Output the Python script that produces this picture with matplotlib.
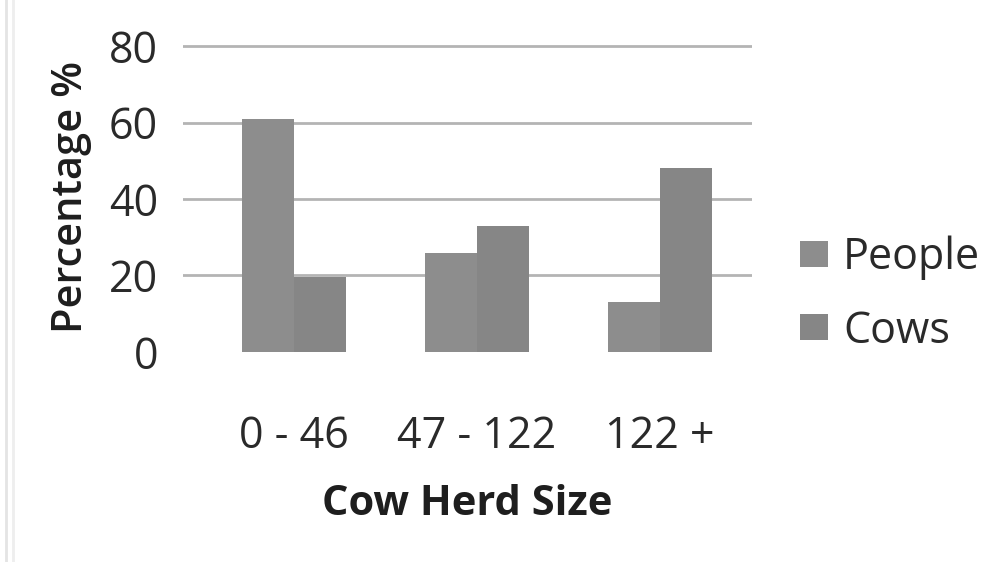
import numpy as np
import matplotlib.pyplot as plt
from matplotlib.lines import Line2D

herd_sizes = ['0 - 46', '47 - 122', '122 +']
people_pct = [61, 26, 13]
cows_pct = [19.5, 33, 48]

plt.rcParams['font.family'] = ['Open Sans', 'DejaVu Sans']

fig = plt.figure(figsize=(9.84, 5.62), dpi=100)
ax = fig.add_axes([0.186, 0.3737, 0.578, 0.5512])

x = np.arange(len(herd_sizes))
w = 0.284
ax.bar(x - w / 2, people_pct, w, color='#8d8d8d', label='People')
ax.bar(x + w / 2, cows_pct, w, color='#868686', label='Cows')

ax.set_xlim(-0.607, 2.503)
ax.set_ylim(0, 81)
ax.set_yticks([0, 20, 40, 60, 80])
ax.set_xticks(x)
ax.set_xticklabels(herd_sizes)

ax.yaxis.grid(True, color='#b4b4b4', linewidth=2)
ax.get_ygridlines()[0].set_visible(False)
ax.set_axisbelow(True)
for s in ax.spines.values():
    s.set_visible(False)
ax.tick_params(axis='both', length=0, labelsize=31, colors='#2a2a2a')
ax.tick_params(axis='y', pad=18)
ax.tick_params(axis='x', pad=45)

ax.set_ylabel('Percentage %', fontsize=30, fontweight='semibold', color='#1e1e1e', labelpad=12)
ax.set_xlabel('Cow Herd Size', fontsize=30, fontweight='bold', color='#1e1e1e', labelpad=18)

leg = fig.legend(loc='center left', bbox_to_anchor=(0.813, 0.476), frameon=False,
                 fontsize=31, handlelength=0.65, handleheight=0.55, handletextpad=0.35,
                 labelspacing=0.68, borderpad=0, borderaxespad=0)
for t in leg.get_texts():
    t.set_color('#2a2a2a')

# faint frame edge on the left
fig.add_artist(Line2D([0.006, 0.006], [0, 1], color='#e4e4e4', linewidth=2))
fig.add_artist(Line2D([0.013, 0.013], [0, 1], color='#eeeeee', linewidth=2))

fig.savefig('out.png', dpi=100)
